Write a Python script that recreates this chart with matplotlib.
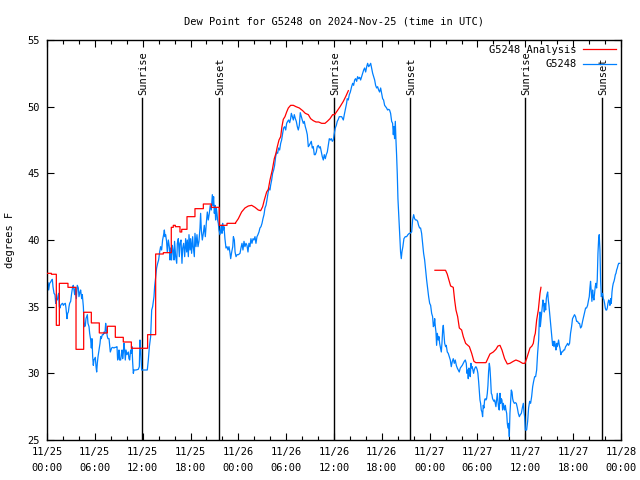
import numpy as np
import matplotlib
matplotlib.use("Agg")
import matplotlib.pyplot as plt
from matplotlib.ticker import MultipleLocator

# hours since 2024-11-25 00:00 UTC, dew point (F)
obs_day1 = [
    (0.00, 36.6), (0.13, 36.8), (0.21, 36.25), (0.33, 36.75), (0.46, 36.85), (0.54, 36.95),
    (0.67, 37.05), (0.75, 36.5), (0.88, 36.0), (1.00, 35.9), (1.09, 35.25), (1.17, 35.6),
    (1.30, 35.5), (1.38, 35.8), (1.46, 36.0), (1.55, 35.0), (1.63, 34.9), (1.71, 35.1),
    (1.84, 35.2), (1.96, 35.25), (2.05, 35.1), (2.17, 35.2), (2.30, 35.25), (2.38, 34.9),
    (2.51, 34.1), (2.59, 34.5), (2.68, 34.6), (2.76, 35.0), (2.84, 35.25), (2.97, 35.4),
    (3.09, 36.0), (3.22, 36.5), (3.30, 36.6), (3.39, 36.25), (3.47, 35.9), (3.55, 36.4),
    (3.68, 35.6), (3.80, 36.6), (3.93, 36.4), (4.01, 35.75), (4.14, 36.1), (4.22, 36.25),
    (4.35, 35.6), (4.43, 35.9), (4.56, 35.0), (4.64, 33.9), (4.72, 33.5), (4.81, 33.6),
    (4.89, 34.1), (4.97, 34.25), (5.06, 34.4), (5.14, 33.75), (5.27, 33.5), (5.35, 33.0),
    (5.48, 32.5), (5.56, 31.9), (5.64, 32.6), (5.73, 31.25), (5.81, 30.6), (5.89, 31.0),
    (5.98, 31.1), (6.06, 31.2), (6.15, 30.5), (6.23, 30.1), (6.31, 30.75), (6.40, 31.25),
    (6.52, 31.75), (6.65, 32.25), (6.73, 32.75), (6.81, 32.6), (6.94, 32.9), (7.07, 32.9),
    (7.15, 33.1), (7.27, 33.0), (7.36, 33.75), (7.44, 33.25), (7.57, 32.75), (7.65, 32.6),
    (7.78, 32.6), (7.86, 32.1), (7.94, 31.6), (8.03, 31.75), (8.11, 31.9), (8.24, 31.95),
    (8.40, 31.9), (8.53, 31.95), (8.65, 31.95), (8.78, 32.0), (8.86, 31.0), (8.95, 31.25),
    (9.03, 31.75), (9.11, 31.0), (9.24, 31.0), (9.32, 31.4), (9.41, 31.75), (9.49, 31.1),
    (9.57, 31.5), (9.66, 32.25), (9.74, 31.75), (9.82, 31.0), (9.91, 31.75), (10.03, 31.4),
    (10.12, 31.5), (10.20, 31.6), (10.28, 31.1), (10.37, 31.0), (10.49, 31.75), (10.58, 31.5),
    (10.66, 32.0), (10.74, 30.9), (10.83, 30.0), (10.91, 30.25), (11.16, 30.25), (11.45, 30.3),
    (11.58, 30.5), (11.66, 32.5), (11.75, 31.75), (11.87, 30.25), (12.58, 30.25),
    (12.71, 31.0), (12.84, 32.0), (13.0, 32.75), (13.13, 34.75), (13.25, 35.0), (13.42, 35.75),
    (13.5, 36.5), (13.63, 37.25), (13.75, 37.9), (13.88, 38.25), (14.0, 38.5), (14.13, 39.1),
    (14.25, 39.5), (14.38, 39.25), (14.5, 40.0), (14.63, 40.4), (14.72, 40.75), (14.8, 40.25),
    (14.88, 40.4), (15.0, 39.9), (15.09, 39.1), (15.22, 40.0), (15.34, 39.5), (15.43, 38.5),
    (15.5, 39.4), (15.63, 38.5), (15.72, 39.6), (15.84, 39.1), (15.93, 38.5), (16.0, 39.9),
    (16.14, 38.75), (16.27, 38.25), (16.35, 39.75), (16.47, 40.1), (16.6, 38.75), (16.68, 39.75),
    (16.81, 40.0), (16.93, 38.25), (17.02, 39.4), (17.14, 39.75), (17.27, 38.75), (17.39, 40.1),
    (17.52, 39.1), (17.6, 40.0), (17.73, 38.75), (17.81, 40.4), (17.94, 39.25), (18.02, 40.1),
    (18.14, 39.0), (18.27, 40.25), (18.35, 39.5), (18.48, 38.75), (18.56, 40.5), (18.69, 39.5),
    (18.81, 40.4), (18.94, 39.5), (19.06, 39.9), (19.19, 40.9), (19.27, 42.0), (19.36, 40.75),
    (19.48, 40.0), (19.61, 40.5), (19.73, 41.1), (19.86, 40.25), (19.98, 41.25), (20.11, 42.1),
    (20.23, 41.5), (20.36, 42.0), (20.48, 42.6), (20.61, 42.25), (20.74, 43.4), (20.82, 42.6),
    (20.9, 43.25), (20.99, 42.0), (21.07, 42.6), (21.15, 41.5), (21.24, 42.4), (21.32, 42.0),
    (21.4, 41.5), (21.49, 41.25), (21.57, 40.75), (21.7, 40.4), (21.78, 40.75), (21.87, 41.1),
    (21.95, 40.5), (22.03, 41.25), (22.12, 40.75), (22.2, 41.0), (22.32, 40.1), (22.45, 39.4),
    (22.58, 39.5), (22.7, 39.25), (22.83, 39.5), (22.96, 39.0), (23.04, 38.6), (23.17, 39.1),
    (23.3, 39.5), (23.38, 40.25), (23.5, 40.0), (23.59, 39.1), (23.71, 38.75), (23.84, 38.9),
    (24.01, 38.9),
]
obs_day2 = [
    (24.21, 39.0), (24.33, 39.4), (24.46, 39.75), (24.58, 39.25), (24.71, 39.9), (24.83, 39.5),
    (24.96, 39.75), (25.08, 39.6), (25.21, 39.1), (25.33, 39.75), (25.46, 39.5), (25.58, 40.1),
    (25.71, 39.75), (25.84, 40.1), (25.96, 40.0), (26.09, 40.25), (26.21, 39.75), (26.34, 40.25),
    (26.46, 40.4), (26.59, 40.6), (26.71, 40.9), (26.84, 41.0), (26.97, 41.25), (27.09, 41.6),
    (27.22, 41.9), (27.34, 42.4), (27.47, 42.6), (27.59, 43.0), (27.72, 43.5), (27.84, 43.9),
    (27.97, 43.75), (28.05, 44.1), (28.18, 44.5), (28.3, 45.0), (28.43, 45.25), (28.55, 45.6),
    (28.68, 46.25), (28.8, 46.6), (28.93, 46.5), (29.05, 46.9), (29.18, 46.75), (29.31, 47.25),
    (29.43, 47.5), (29.56, 48.0), (29.68, 48.4), (29.81, 48.5), (29.94, 48.25), (30.06, 48.75),
    (30.19, 48.9), (30.31, 49.0), (30.44, 48.8), (30.56, 49.1), (30.65, 49.5), (30.77, 49.25),
    (30.9, 49.0), (31.02, 49.4), (31.15, 49.1), (31.27, 48.9), (31.4, 48.5), (31.52, 48.25),
    (31.65, 48.6), (31.77, 49.55), (31.9, 49.25), (32.02, 49.0), (32.15, 48.75), (32.27, 48.9),
    (32.4, 48.5), (32.52, 48.25), (32.65, 47.9), (32.78, 47.0), (32.9, 47.1), (33.03, 47.25),
    (33.15, 47.4), (33.28, 46.9), (33.4, 47.0), (33.53, 46.4), (33.65, 46.4), (33.78, 46.6),
    (33.9, 47.0), (34.03, 47.1), (34.16, 46.9), (34.28, 47.0), (34.41, 46.6), (34.53, 46.25),
    (34.66, 46.0), (34.78, 46.4), (34.91, 46.1), (35.03, 46.4), (35.16, 46.6), (35.28, 47.1),
    (35.41, 47.6), (35.54, 47.5), (35.66, 47.6), (35.79, 47.4), (35.91, 47.5), (36.04, 48.0),
    (36.16, 48.4), (36.29, 48.6), (36.41, 48.9), (36.54, 49.05), (36.66, 49.25), (36.96, 49.25),
    (37.17, 49.0), (37.29, 49.4), (37.46, 49.9), (37.58, 50.25), (37.66, 50.6), (37.79, 50.5),
    (37.92, 50.9), (38.05, 51.1), (38.21, 51.5), (38.34, 51.75), (38.46, 51.6), (38.59, 52.0),
    (38.71, 52.1), (38.84, 51.9), (38.96, 52.25), (39.09, 52.1), (39.22, 52.2), (39.34, 52.0),
    (39.47, 52.25), (39.59, 52.5), (39.72, 52.75), (39.84, 52.9), (39.97, 52.6), (40.1, 53.0),
    (40.22, 53.25), (40.35, 53.0), (40.47, 53.1), (40.6, 53.25), (40.72, 52.9), (40.85, 52.5),
    (40.97, 52.25), (41.1, 52.0), (41.22, 51.6), (41.35, 51.4), (41.47, 51.5), (41.6, 51.25),
    (41.72, 51.1), (41.85, 51.4), (41.97, 51.0), (42.1, 50.6), (42.22, 50.5), (42.35, 50.1),
    (42.48, 50.0), (42.6, 49.9), (42.72, 49.75), (42.85, 49.8), (42.97, 49.75), (43.1, 49.5),
    (43.23, 48.9), (43.35, 48.75), (43.44, 47.9), (43.52, 48.5), (43.6, 47.6), (43.69, 48.9),
    (43.77, 47.5), (43.85, 46.4), (43.94, 44.9), (44.02, 43.1), (44.1, 42.1), (44.19, 41.1),
    (44.27, 39.9), (44.35, 39.1), (44.44, 38.6), (44.52, 39.1), (44.64, 39.5), (44.77, 40.1),
    (44.94, 40.25), (45.11, 40.25), (45.27, 40.4), (45.44, 40.5), (45.53, 40.5), (45.74, 40.6),
    (45.86, 41.5), (45.99, 41.9), (46.11, 41.6), (46.24, 41.5), (46.37, 41.5), (46.49, 41.4),
    (46.61, 41.1), (46.74, 40.9), (46.86, 40.9), (46.99, 40.5), (47.12, 39.75), (47.24, 39.0),
    (47.37, 38.5), (47.49, 37.75), (47.62, 37.0), (47.74, 36.4), (47.87, 35.75),
]
obs_day3 = [
    (48.0, 35.25), (48.12, 35.1), (48.25, 34.5), (48.37, 34.25), (48.46, 33.5), (48.55, 33.6),
    (48.63, 34.1), (48.71, 33.5), (48.79, 33.1), (48.87, 32.1), (48.96, 33.0), (49.08, 32.5),
    (49.17, 32.75), (49.25, 32.25), (49.33, 32.0), (49.46, 31.6), (49.54, 32.25), (49.63, 33.25),
    (49.71, 33.6), (49.79, 33.0), (49.88, 32.25), (50.0, 32.0), (50.08, 32.1), (50.21, 31.6),
    (50.33, 31.5), (50.46, 31.25), (50.59, 31.0), (50.71, 30.5), (50.84, 30.9), (50.96, 31.1),
    (51.09, 30.75), (51.21, 31.0), (51.34, 30.6), (51.46, 30.4), (51.59, 30.25), (51.71, 30.1),
    (51.84, 30.4), (51.97, 30.5), (52.09, 30.6), (52.22, 30.75), (52.34, 30.9), (52.47, 31.0),
    (52.59, 30.75), (52.68, 30.0), (52.76, 30.25), (52.84, 29.6), (52.93, 30.4), (53.01, 30.0),
    (53.09, 29.75), (53.18, 30.75), (53.26, 30.4), (53.34, 30.5), (53.43, 30.25), (53.51, 30.0),
    (53.59, 30.25), (53.68, 30.4), (53.8, 30.5), (53.89, 30.4), (53.97, 30.25), (54.05, 30.0),
    (54.14, 29.4), (54.22, 28.75), (54.31, 28.0), (54.39, 27.75), (54.47, 27.25), (54.56, 27.1),
    (54.64, 26.75), (54.72, 27.6), (54.81, 27.4), (54.89, 28.0), (54.97, 28.1), (55.06, 28.0),
    (55.14, 28.1), (55.23, 28.5), (55.31, 29.1), (55.39, 30.1), (55.48, 30.75), (55.56, 30.4),
    (55.65, 29.5), (55.73, 28.5), (55.81, 28.4), (55.89, 28.1), (55.98, 28.0), (56.06, 27.9),
    (56.15, 28.0), (56.23, 27.75), (56.31, 27.5), (56.4, 28.0), (56.48, 28.5), (56.56, 28.0),
    (56.65, 27.4), (56.73, 27.25), (56.82, 28.5), (56.9, 27.75), (56.98, 28.1), (57.07, 28.0),
    (57.15, 27.25), (57.24, 27.75), (57.32, 27.5), (57.4, 27.25), (57.49, 27.6), (57.57, 27.25),
    (57.66, 27.0), (57.74, 26.25), (57.82, 25.9), (57.91, 26.25), (57.99, 25.25), (58.07, 27.0),
    (58.16, 28.0), (58.24, 28.75), (58.33, 28.6), (58.41, 28.1), (58.49, 27.9), (58.62, 27.75),
    (58.75, 27.8), (58.87, 27.75), (59.0, 27.4), (59.12, 27.0), (59.25, 26.75), (59.37, 26.9),
    (59.5, 27.0), (59.62, 27.4), (59.75, 27.75), (59.83, 27.1), (59.91, 26.75), (60.0, 25.75),
    (60.16, 25.75), (60.29, 26.4), (60.41, 27.4), (60.54, 27.9), (60.66, 27.75), (60.79, 28.25),
    (60.92, 29.0), (61.04, 29.4), (61.17, 29.75), (61.29, 29.75), (61.42, 30.25), (61.54, 31.5),
    (61.67, 32.5), (61.75, 34.0), (61.84, 34.6), (61.88, 33.5), (61.96, 34.0), (62.05, 34.5),
    (62.13, 35.0), (62.21, 35.5), (62.3, 35.1), (62.38, 34.6), (62.46, 35.25), (62.55, 34.75),
    (62.63, 35.6), (62.71, 35.9), (62.8, 36.1), (62.88, 35.5), (62.96, 35.1), (63.09, 34.25),
    (63.21, 33.5), (63.34, 32.6), (63.42, 32.1), (63.51, 32.4), (63.59, 32.0), (63.67, 32.4),
    (63.76, 32.1), (63.84, 31.75), (63.92, 32.25), (64.01, 32.0), (64.09, 32.25), (64.17, 32.5),
    (64.26, 32.1), (64.34, 31.9), (64.46, 31.4), (64.55, 31.6), (64.67, 31.6), (64.8, 31.75),
    (64.92, 31.75), (65.05, 32.0), (65.17, 32.1), (65.3, 32.25), (65.42, 32.1), (65.55, 32.25),
    (65.67, 33.0), (65.8, 33.5), (65.92, 34.1), (66.05, 34.25), (66.17, 34.4), (66.3, 34.25),
    (66.43, 33.9), (66.55, 33.9), (66.68, 33.75), (66.8, 33.75), (66.93, 33.4), (67.05, 33.5),
    (67.18, 33.9), (67.31, 34.25), (67.43, 34.6), (67.56, 34.9), (67.68, 34.9), (67.81, 35.1),
    (67.93, 35.5), (68.02, 35.75), (68.1, 36.4), (68.18, 36.9), (68.27, 36.1), (68.35, 35.4),
    (68.44, 36.25), (68.52, 35.75), (68.6, 35.5), (68.69, 36.0), (68.77, 36.5), (68.85, 36.75),
    (68.94, 36.4), (69.02, 37.0), (69.11, 39.0), (69.19, 40.0), (69.27, 40.4), (69.36, 39.25),
    (69.44, 37.0), (69.53, 35.75), (69.61, 35.9), (69.69, 36.0), (69.78, 35.6), (69.86, 35.5),
    (69.94, 35.25), (70.03, 34.9), (70.11, 34.75), (70.2, 34.75), (70.28, 34.9), (70.36, 35.25),
    (70.45, 35.5), (70.53, 35.4), (70.61, 35.1), (70.7, 35.6), (70.78, 35.25), (70.87, 36.1),
    (70.95, 36.5), (71.03, 36.75), (71.12, 36.9), (71.2, 37.1), (71.29, 37.4), (71.37, 37.5),
    (71.45, 37.75), (71.54, 37.9), (71.62, 38.1), (71.71, 38.25), (71.83, 38.25),
]

# analysis: hourly steps, then smooth pieces
ana_step_t = [0, 0.55, 1.17, 1.55, 2.63, 3.64, 4.6, 5.56, 6.56, 7.57, 8.57, 9.57, 10.58,
              12.62, 13.63, 14.59, 15.59, 15.84, 16.1, 16.68, 16.9, 17.56, 18.56, 19.61,
              20.61, 21.61, 22.58]
ana_step_v = [37.5, 37.43, 33.6, 36.75, 36.45, 31.8, 34.58, 33.78, 33.03, 33.53, 32.7, 32.35,
              31.88, 32.9, 38.95, 39.05, 40.95, 41.1, 41.0, 40.6, 40.8, 41.75, 42.35, 42.7,
              42.45, 41.1, 41.25]
ana_smooth1 = [
    (23.66, 41.3), (24.0, 41.6), (24.41, 42.1), (24.83, 42.4), (25.25, 42.55), (25.67, 42.6),
    (26.09, 42.45), (26.5, 42.25), (26.8, 42.2), (27.05, 42.5), (27.26, 43.0), (27.55, 43.6),
    (27.76, 43.8), (27.97, 44.5), (28.26, 45.25), (28.51, 46.1), (28.72, 46.5), (28.89, 47.0),
    (29.1, 47.5), (29.31, 47.75), (29.47, 48.5), (29.64, 49.05), (29.85, 49.25), (30.06, 49.6),
    (30.27, 49.9), (30.56, 50.1), (30.9, 50.1), (31.23, 50.0), (31.65, 49.9), (32.07, 49.7),
    (32.4, 49.5), (32.78, 49.4), (33.07, 49.1), (33.4, 48.95), (33.74, 48.85), (34.07, 48.85),
    (34.45, 48.75), (34.87, 48.75), (35.16, 48.9), (35.5, 49.1), (35.83, 49.4), (36.08, 49.4),
    (36.42, 49.7), (36.76, 50.0), (37.17, 50.4), (37.5, 50.8), (37.8, 51.2),
]
ana_smooth2 = [
    (48.66, 37.73), (49.99, 37.73), (50.2, 37.45), (50.41, 37.0), (50.63, 36.55), (50.96, 36.45),
    (51.13, 35.5), (51.3, 34.75), (51.51, 34.25), (51.72, 33.4), (52.01, 33.25), (52.22, 32.75),
    (52.51, 32.25), (52.98, 32.0), (53.27, 31.5), (53.55, 30.9), (53.8, 30.8), (55.06, 30.8),
    (55.56, 31.45), (55.98, 31.6), (56.31, 31.8), (56.56, 32.05), (56.82, 32.1), (57.07, 31.75),
    (57.4, 31.1), (57.74, 30.7), (58.07, 30.75), (58.49, 30.9), (58.82, 31.0), (59.24, 30.9),
    (59.66, 30.75), (59.95, 30.75), (60.16, 31.1), (60.37, 31.5), (60.58, 31.9), (60.83, 32.05),
    (61.0, 32.25), (61.13, 32.75), (61.25, 33.0), (61.42, 34.0), (61.63, 34.75), (61.75, 35.5),
    (61.84, 36.0), (61.96, 36.45),
]

sun_events = [(11.95, "Sunrise"), (21.62, "Sunset"), (36.03, "Sunrise"),
              (45.58, "Sunset"), (60.02, "Sunrise"), (69.62, "Sunset")]
xtick_labels = ["11/25\n00:00", "11/25\n06:00", "11/25\n12:00", "11/25\n18:00",
                "11/26\n00:00", "11/26\n06:00", "11/26\n12:00", "11/26\n18:00",
                "11/27\n00:00", "11/27\n06:00", "11/27\n12:00", "11/27\n18:00",
                "11/28\n00:00"]

plt.rcParams['font.family'] = 'DejaVu Sans Mono'
plt.rcParams['font.size'] = 7

obs = np.array(obs_day1 + obs_day2 + obs_day3)

# build the step part of the analysis as explicit corners
st = np.array(ana_step_t + [ana_smooth1[0][0]])
sv = np.array(ana_step_v)
step_t = np.repeat(st, 2)[1:-1]
step_v = np.repeat(sv, 2)
s1 = np.array(ana_smooth1)
s2 = np.array(ana_smooth2)
ana_t = np.concatenate([step_t, s1[:, 0], [np.nan], s2[:, 0]])
ana_v = np.concatenate([step_v, s1[:, 1], [np.nan], s2[:, 1]])

fig = plt.figure(figsize=(6.4, 4.8), dpi=100)
ax = fig.add_axes([47/640, 1 - 440/480, 574/640, 400/480])

for t, name in sun_events:
    ax.plot([t, t], [25, 50.65], color='black', lw=1.0, zorder=1)
    ax.text(t + 0.1, 50.9, name, rotation=90, ha='center', va='bottom', fontsize=7.5)

ax.plot(ana_t, ana_v, color='#ff0000', lw=0.9, label='G5248 Analysis', zorder=3)
ax.plot(obs[:, 0], obs[:, 1], color='#0080ff', lw=0.9, label='G5248', zorder=2)

ax.set_xlim(0, 72)
ax.set_ylim(25, 55)
ax.set_xticks(np.arange(0, 73, 6))
ax.set_xticklabels(xtick_labels, linespacing=1.75)
ax.xaxis.set_minor_locator(MultipleLocator(2))
ax.set_yticks(np.arange(25, 56, 5))
ax.tick_params(which='both', direction='in', top=True, right=True, width=0.8, labelsize=7.5)
ax.tick_params(which='major', length=5, pad=5)
ax.tick_params(which='minor', length=3)
for sp in ax.spines.values():
    sp.set_linewidth(1.0)

ax.set_ylabel('degrees F', fontsize=7.5, labelpad=9)
ax.set_title('Dew Point for G5248 on 2024-Nov-25 (time in UTC)', fontsize=7.5, pad=11)

leg = ax.legend(loc='upper right', frameon=False, markerfirst=False, handlelength=3.2,
                fontsize=7.5, borderaxespad=0.05, labelspacing=0.45, handletextpad=0.6)

fig.savefig('out.png', dpi=100)
